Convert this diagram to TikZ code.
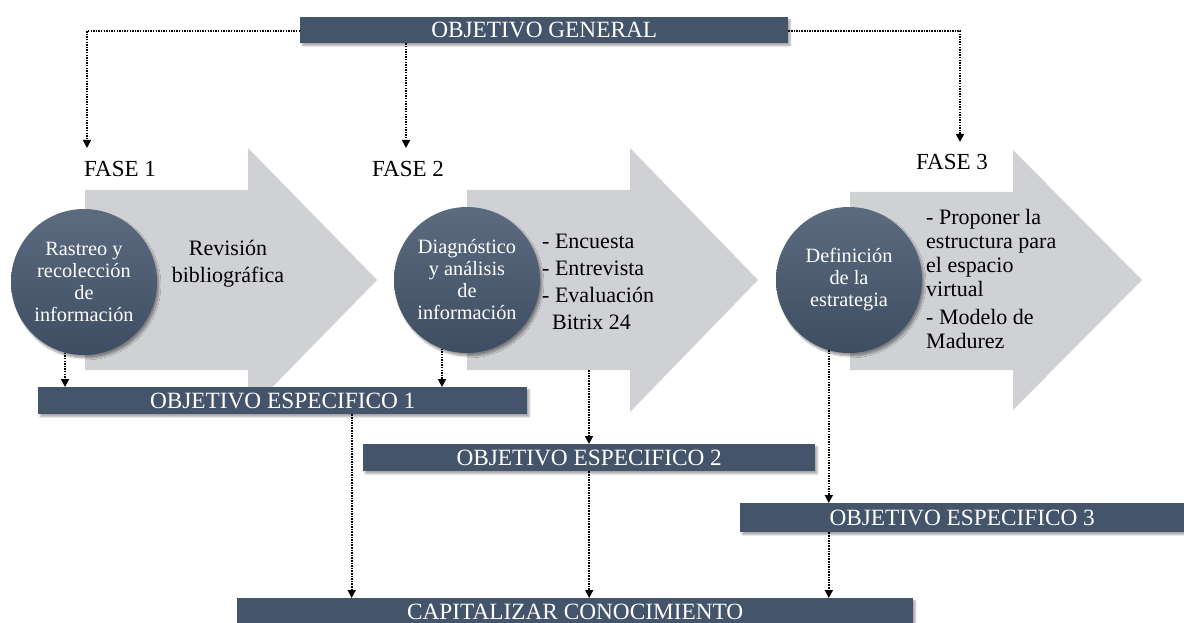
\documentclass[tikz,border=0pt]{standalone}
\usepackage{fontspec}
\setmainfont{Liberation Serif}
\usetikzlibrary{shadows.blur,arrows.meta}
\definecolor{boxc}{HTML}{44546A}
\definecolor{boxtop}{HTML}{5C6B80}
\definecolor{boxbot}{HTML}{3E4D62}
\definecolor{arrc}{HTML}{D0D1D4}
\tikzset{
  bar/.style={fill=boxc, text=white, font=\fontsize{23.3}{26}\selectfont,
    inner sep=0pt, anchor=north west,
    blur shadow={shadow xshift=2pt, shadow yshift=-2.5pt, shadow blur steps=6, shadow opacity=35}},
  circ/.style={circle, minimum size=146pt, inner sep=0pt, align=center,
    top color=boxtop, bottom color=boxbot, text=white,
    font=\fontsize{20.3}{22}\selectfont,
    blur shadow={shadow xshift=2pt, shadow yshift=-3pt, shadow blur steps=8, shadow opacity=40}},
  bigarrow/.style={fill=arrc, draw=none},
  fase/.style={font=\fontsize{23}{26}\selectfont, inner sep=0pt},
  conn/.style={line width=1.6pt, dash pattern=on 1.5pt off 1.1pt,
    -{Triangle[width=8pt,length=8pt]}},
  lbl/.style={font=\fontsize{22}{27}\selectfont, inner sep=0pt},
}
\begin{document}
\begin{tikzpicture}[x=1pt,y=-1pt]
\useasboundingbox (0,0) rectangle (1184,623);
% big arrows
\fill[bigarrow] (85,190) -- (248,190) -- (248,148) -- (377,280) -- (248,412) -- (248,370) -- (85,370) -- cycle;
\fill[bigarrow] (467,190) -- (630,190) -- (630,148) -- (758,280) -- (630,412) -- (630,370) -- (467,370) -- cycle;
\fill[bigarrow] (850,192) -- (1013,192) -- (1013,150) -- (1142,280) -- (1013,410) -- (1013,370) -- (850,370) -- cycle;
\coordinate (a2b) at (589,370);

% bars
\node[bar, minimum width=488pt, minimum height=26pt] (og) at (300,17) {OBJETIVO GENERAL};
\node[bar, minimum width=489pt, minimum height=27pt] (oe1) at (38,387) {OBJETIVO ESPECIFICO 1};
\node[bar, minimum width=452pt, minimum height=27pt] (oe2) at (363,444) {OBJETIVO ESPECIFICO 2};
\node[bar, minimum width=444pt, minimum height=29pt] (oe3) at (740,503) {OBJETIVO ESPECIFICO 3};
\node[bar, minimum width=676pt, minimum height=27pt] (cap) at (237,598) {CAPITALIZAR CONOCIMIENTO};

% phase labels
\node[fase] (f1) at (120,169) {FASE 1};
\node[fase] (f2) at (408,169) {FASE 2};
\node[fase] (f3) at (952,162) {FASE 3};
\coordinate (t1) at (87,148);
\coordinate (t2) at (406,148);
\coordinate (t3) at (960,142);

% circles
\node[circ] (c1) at (84,282) {Rastreo y\\recolección\\de\\información};
\node[circ] (c2) at (467,280) {Diagnóstico\\y análisis\\de\\información};
\node[circ] (c3) at (849,280) {Definición\\de la\\estrategia};

% arrow texts
\node[lbl, align=center] (t1txt) at (228,264) {Revisión\\bibliográfica};
\node[lbl, align=left, anchor=west] (t2txt) at (542,282) {- Encuesta\\- Entrevista\\- Evaluación\\\hspace{0.45em}Bitrix 24};
\node[lbl, align=left, anchor=west, font=\fontsize{22}{24}\selectfont] (t3txt) at (926,279)
  {- Proponer la\\estructura para\\el espacio\\virtual\\[4pt]- Modelo de\\Madurez};

% connectors
\draw[conn] (og.west |- 0,31) -| (t1);
\draw[conn] (og.south -| t2) -- (t2);
\draw[conn] (og.east |- 0,31) -| (t3);
\draw[conn] (c1.-105) -- (c1.-105 |- oe1.north);
\draw[conn] (c2.-110) -- (c2.-110 |- oe1.north);
\draw[conn] (a2b) -- (a2b |- oe2.north);
\draw[conn] (c3.-106) -- (c3.-106 |- oe3.north);
\draw[conn] ([xshift=69pt]oe1.south) -- ([xshift=69pt]oe1.south |- cap.north);
\draw[conn] (oe2.south) -- (oe2.south |- cap.north);
\draw[conn] (c3.-106 |- oe3.south) -- (c3.-106 |- cap.north);
\end{tikzpicture}
\end{document}
